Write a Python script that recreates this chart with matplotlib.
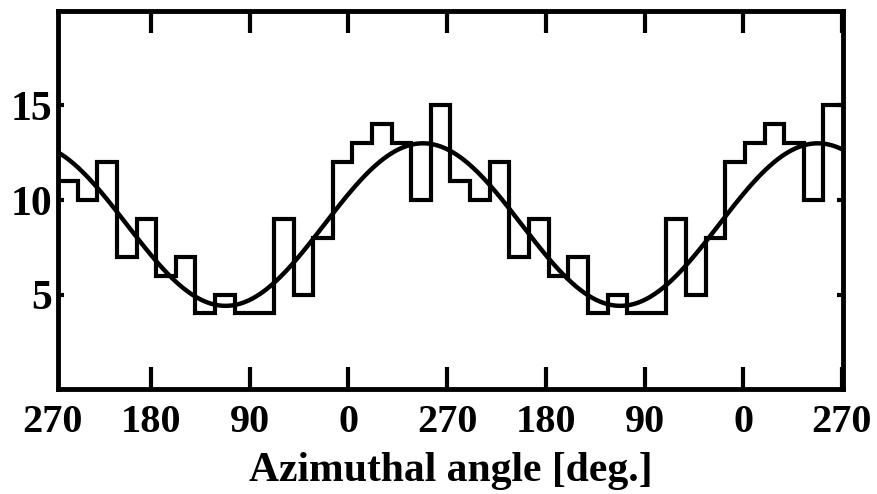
import numpy as np
import matplotlib
matplotlib.use("Agg")
import matplotlib.pyplot as plt

# Histogram counts (one full turn, 20 bins of 18 deg), shown twice
counts_one_turn = [11, 10, 12, 7, 9, 6, 7, 4, 5, 4, 4, 9, 5, 8, 12, 13, 14, 13, 10, 15]
counts = counts_one_turn * 2

# Fitted cosine parameters
fit_mean = 8.7
fit_amp = 4.3
fit_phase = 338.0  # plot-coordinate position of the maximum (deg)

tick_pos = [0, 90, 180, 270, 360, 450, 540, 630, 720]
tick_labels = ["270", "180", "90", "0", "270", "180", "90", "0", "270"]
ytick_pos = [5, 10, 15]
ytick_labels = ["5", "10", "15"]
xlabel = "Azimuthal angle [deg.]"

x_lo, x_hi = 5.2, 721.0

plt.rcParams['font.family'] = ['Liberation Serif', 'DejaVu Serif']
plt.rcParams['font.weight'] = 'bold'

fig = plt.figure(figsize=(8.78, 4.94), dpi=100)
ax = fig.add_axes([58/878, 1-389/494, (843-58)/878, (389-11)/494])

edges = np.linspace(x_lo, x_hi, len(counts) + 1)
ax.stairs(counts, edges, baseline=None, color='black', linewidth=3.0)

xs = np.linspace(x_lo, x_hi, 800)
ys = fit_mean + fit_amp * np.cos(np.deg2rad(xs - fit_phase))
ax.plot(xs, ys, color='black', linewidth=3.2)

ax.set_xlim(x_lo, x_hi)
ax.set_ylim(0, 20)

ax.set_xticks(tick_pos[1:])
ax.set_xticklabels(tick_labels[1:])
ax.text(tick_pos[0], 0, tick_labels[0], transform=ax.get_xaxis_transform(),
        ha='center', va='top', fontsize=29, fontweight='bold',
        clip_on=False)
ax.set_yticks(ytick_pos)
ax.set_yticklabels(ytick_labels)

ax.tick_params(axis='x', direction='in', length=16, width=3, top=True,
               labelsize=29, pad=11)
ax.tick_params(axis='y', direction='in', length=4, width=3, right=True,
               labelsize=30, pad=4)
for s in ax.spines.values():
    s.set_linewidth(3.5)

ax.set_xlabel(xlabel, fontsize=30, fontweight='bold', labelpad=8)

# align the manually placed first label with the tick labels
fig.canvas.draw()
tl = ax.get_xticklabels()[0]
bb = tl.get_window_extent()
txt = ax.texts[0]
inv = ax.transAxes.inverted()
ytop = inv.transform((0, bb.y1))[1]
txt.set_position((tick_pos[0], ytop))
txt.set_transform(ax.get_xaxis_transform())

fig.savefig("out.png", dpi=100)
